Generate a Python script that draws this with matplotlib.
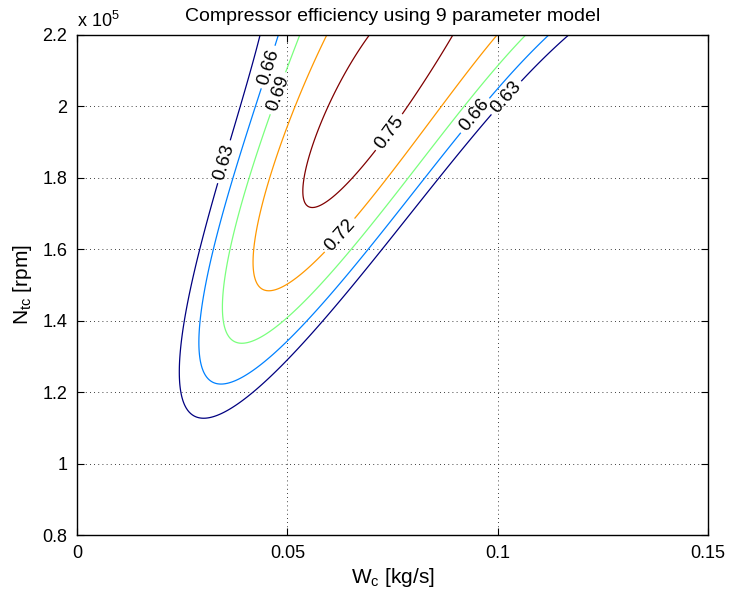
import numpy as np
import matplotlib
matplotlib.use("Agg")
import matplotlib.pyplot as plt
from matplotlib.ticker import FuncFormatter

# efficiency model fitted to the contours: eta = sum c * (10*W)^i * (N/1e5)^j
eff_exponents = [(0, 0), (0, 1), (0, 2), (0, 3), (1, 0), (1, 1), (1, 2), (2, 0), (2, 1), (3, 0)]
eff_coefs = [-0.3353, 2.0526, -1.7804, 0.4253, -2.0558, 5.6200, -1.7667, -5.7239, 2.0341, 0.1191]

levels = [0.63, 0.66, 0.69, 0.72, 0.75]
w_range = [0.0, 0.15]
n_range = [0.8e5, 2.2e5]
x_ticks = [0, 0.05, 0.1, 0.15]
y_ticks = [0.8e5, 1.0e5, 1.2e5, 1.4e5, 1.6e5, 1.8e5, 2.0e5, 2.2e5]

# where the contour labels sit (W, N)
label_pos = [(0.0335, 1.85e5), (0.0455, 2.11e5), (0.0482, 2.035e5), (0.0744, 1.926e5),
             (0.0618, 1.646e5), (0.0953, 1.968e5), (0.1034, 2.01e5)]

plt.rcParams["font.family"] = ["Liberation Sans", "DejaVu Sans"]
plt.rcParams["mathtext.default"] = "regular"

W = np.linspace(w_range[0], w_range[1], 400)
N = np.linspace(n_range[0], n_range[1], 400)
WW, NN = np.meshgrid(W, N)
eta = np.zeros_like(WW)
for (i, j), c in zip(eff_exponents, eff_coefs):
    eta += c * (WW * 10) ** i * (NN / 1e5) ** j

fig = plt.figure(figsize=(7.29, 5.94), dpi=100)
ax = fig.add_axes([0.1056, 0.0993, 0.8656, 0.8418])

cs = ax.contour(WW, NN, eta, levels=levels, cmap="jet", linewidths=0.9)
ax.clabel(cs, fmt="%.2f", fontsize=13.5, colors="black", inline=True, inline_spacing=4, manual=label_pos)

ax.set_xlim(w_range)
ax.set_ylim(n_range)
ax.set_xticks(x_ticks)
ax.set_yticks(y_ticks)
ax.xaxis.set_major_formatter(FuncFormatter(lambda v, p: "%g" % v))
ax.yaxis.set_major_formatter(FuncFormatter(lambda v, p: "%g" % (v / 1e5)))
ax.tick_params(direction="in", length=5, width=0.8, top=True, right=True, labelsize=13, pad=7)
ax.grid(True, color="black", linestyle=(0, (1, 4)), linewidth=0.6)
for s in ax.spines.values():
    s.set_linewidth(1.0)

ax.set_title("Compressor efficiency using 9 parameter model", fontsize=14, pad=10)
ax.set_xlabel("W$_c$ [kg/s]", fontsize=15, labelpad=3)
ax.set_ylabel("N$_{tc}$ [rpm]", fontsize=15, labelpad=6)
fig.text(0.1056, 0.9545, "x 10$^{5}$", fontsize=13, ha="left", va="baseline")

fig.savefig("out.png")
